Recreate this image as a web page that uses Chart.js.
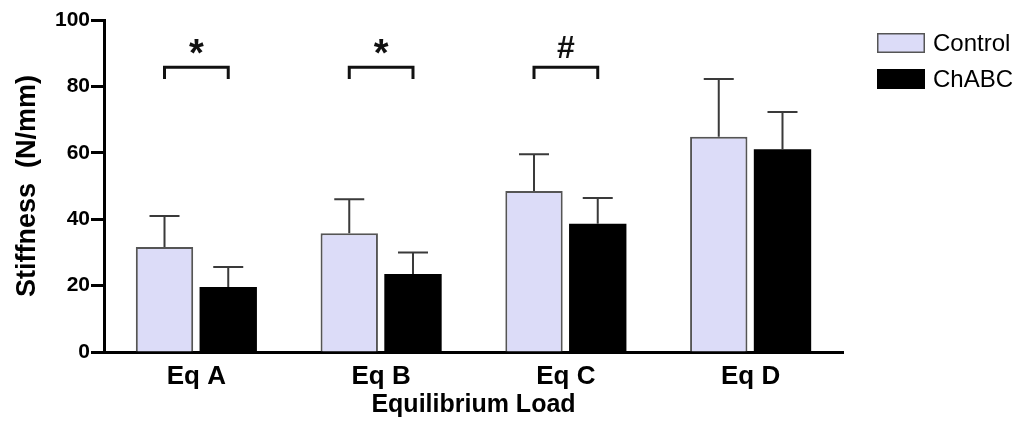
<!DOCTYPE html>
<html>
<head>
<meta charset="utf-8">
<script src="https://cdn.jsdelivr.net/npm/chart.js@4.4.1/dist/chart.umd.min.js"></script>
<style>
  html, body { margin: 0; padding: 0; background: #fff; }
  #wrap { width: 1032px; height: 426px; position: relative; }
</style>
</head>
<body>
<div id="wrap"><canvas id="stiffChart"></canvas></div>
<script>
const categories = ['Eq A', 'Eq B', 'Eq C', 'Eq D'];
const controlMean = [31.6, 35.8, 48.5, 64.8];
const controlSD = [9.4, 10.2, 11.1, 17.4];
const chabcMean = [19.6, 23.5, 38.6, 61.1];
const chabcSD = [6.0, 6.5, 7.8, 11.2];
const sigMarks = ['*', '*', '#', ''];
const yTicks = [0, 20, 40, 60, 80, 100];

const errors = [controlSD, chabcSD];

// upward-only error bars on top of each bar
const errorBars = {
  id: 'errorBars',
  afterDatasetsDraw(chart) {
    const { ctx, scales: { y } } = chart;
    ctx.save();
    ctx.strokeStyle = '#3a3a3a';
    ctx.lineWidth = 2;
    chart.data.datasets.forEach((ds, i) => {
      chart.getDatasetMeta(i).data.forEach((bar, j) => {
        const top = y.getPixelForValue(ds.data[j] + errors[i][j]);
        ctx.beginPath();
        ctx.moveTo(bar.x, bar.y);
        ctx.lineTo(bar.x, top);
        ctx.moveTo(bar.x - 15, top);
        ctx.lineTo(bar.x + 15, top);
        ctx.stroke();
      });
    });
    ctx.restore();
  }
};

// significance brackets between the two bars of a group
const sigBrackets = {
  id: 'sigBrackets',
  afterDatasetsDraw(chart) {
    const { ctx, scales: { y } } = chart;
    const a = chart.getDatasetMeta(0).data, b = chart.getDatasetMeta(1).data;
    const yTop = y.getPixelForValue(85.8), yLeg = y.getPixelForValue(82.2);
    ctx.save();
    ctx.strokeStyle = '#111';
    ctx.fillStyle = '#111';
    ctx.lineWidth = 3;
    ctx.textAlign = 'center';
    ctx.textBaseline = 'alphabetic';
    sigMarks.forEach((m, j) => {
      if (!m) return;
      const x1 = a[j].x, x2 = b[j].x;
      ctx.beginPath();
      ctx.moveTo(x1, yLeg);
      ctx.lineTo(x1, yTop);
      ctx.lineTo(x2, yTop);
      ctx.lineTo(x2, yLeg);
      ctx.stroke();
      if (m === '*') {
        ctx.font = 'bold 38px "Liberation Sans", Arial, sans-serif';
        ctx.fillText(m, (x1 + x2) / 2, yTop - 1);
      } else {
        ctx.font = 'bold 32px "Liberation Sans", Arial, sans-serif';
        ctx.fillText(m, (x1 + x2) / 2, yTop - 9);
      }
    });
    ctx.restore();
  }
};

// legend box at upper right
const sideLegend = {
  id: 'sideLegend',
  afterDraw(chart) {
    const { ctx } = chart;
    ctx.save();
    ctx.font = '24px "Liberation Sans", Arial, sans-serif';
    ctx.textBaseline = 'middle';
    ctx.textAlign = 'left';
    chart.data.datasets.forEach((ds, i) => {
      const bx = 877, by = 33 + i * 36;
      ctx.fillStyle = ds.backgroundColor;
      ctx.fillRect(bx, by, 48, 20);
      ctx.strokeStyle = ds.borderColor;
      ctx.lineWidth = 1.5;
      ctx.strokeRect(bx + 0.75, by + 0.75, 46.5, 18.5);
      ctx.fillStyle = '#000';
      ctx.fillText(ds.label, 933, by + 11);
    });
    ctx.restore();
  }
};

const bgWhite = {
  id: 'bgWhite',
  beforeDraw(chart) {
    const { ctx } = chart;
    ctx.save();
    ctx.fillStyle = '#fff';
    ctx.fillRect(0, 0, chart.width, chart.height);
    ctx.restore();
  }
};

Chart.defaults.font.family = '"Liberation Sans", Arial, sans-serif';
Chart.defaults.color = '#000';

new Chart(document.getElementById('stiffChart'), {
  type: 'bar',
  data: {
    labels: categories,
    datasets: [
      { label: 'Control', data: controlMean, backgroundColor: '#dcdcf8', borderColor: '#555', borderWidth: 2 },
      { label: 'ChABC', data: chabcMean, backgroundColor: '#000', borderColor: '#000', borderWidth: 0 }
    ]
  },
  options: {
    responsive: true, maintainAspectRatio: false, animation: false,
    categoryPercentage: 0.69, barPercentage: 0.9,
    layout: { padding: { top: 20, right: 189, bottom: 0, left: 0 } },
    plugins: { legend: { display: false }, tooltip: { enabled: false } },
    scales: {
      x: {
        afterFit(s) { s.height = 74; },
        grid: { display: false, drawTicks: false },
        border: { display: true, color: '#000', width: 3 },
        ticks: { padding: 9, font: { size: 26, weight: 'bold' } },
        title: { display: true, text: 'Equilibrium Load', font: { size: 25, weight: 'bold' }, padding: { top: 0, bottom: 6 } }
      },
      y: {
        min: 0, max: 100,
        afterFit(s) { s.width = 104; },
        afterBuildTicks(s) { s.ticks = yTicks.map(v => ({ value: v })); },
        grid: { drawOnChartArea: false, drawTicks: true, tickLength: 13, tickColor: '#000', tickWidth: 3 },
        border: { display: true, color: '#000', width: 3 },
        ticks: { padding: 1, font: { size: 21, weight: 'bold' } },
        title: { display: true, text: 'Stiffness  (N/mm)', font: { size: 27, weight: 'bold' }, padding: { top: 11, bottom: 0 } }
      }
    }
  },
  plugins: [bgWhite, errorBars, sigBrackets, sideLegend]
});
</script>
</body>
</html>
